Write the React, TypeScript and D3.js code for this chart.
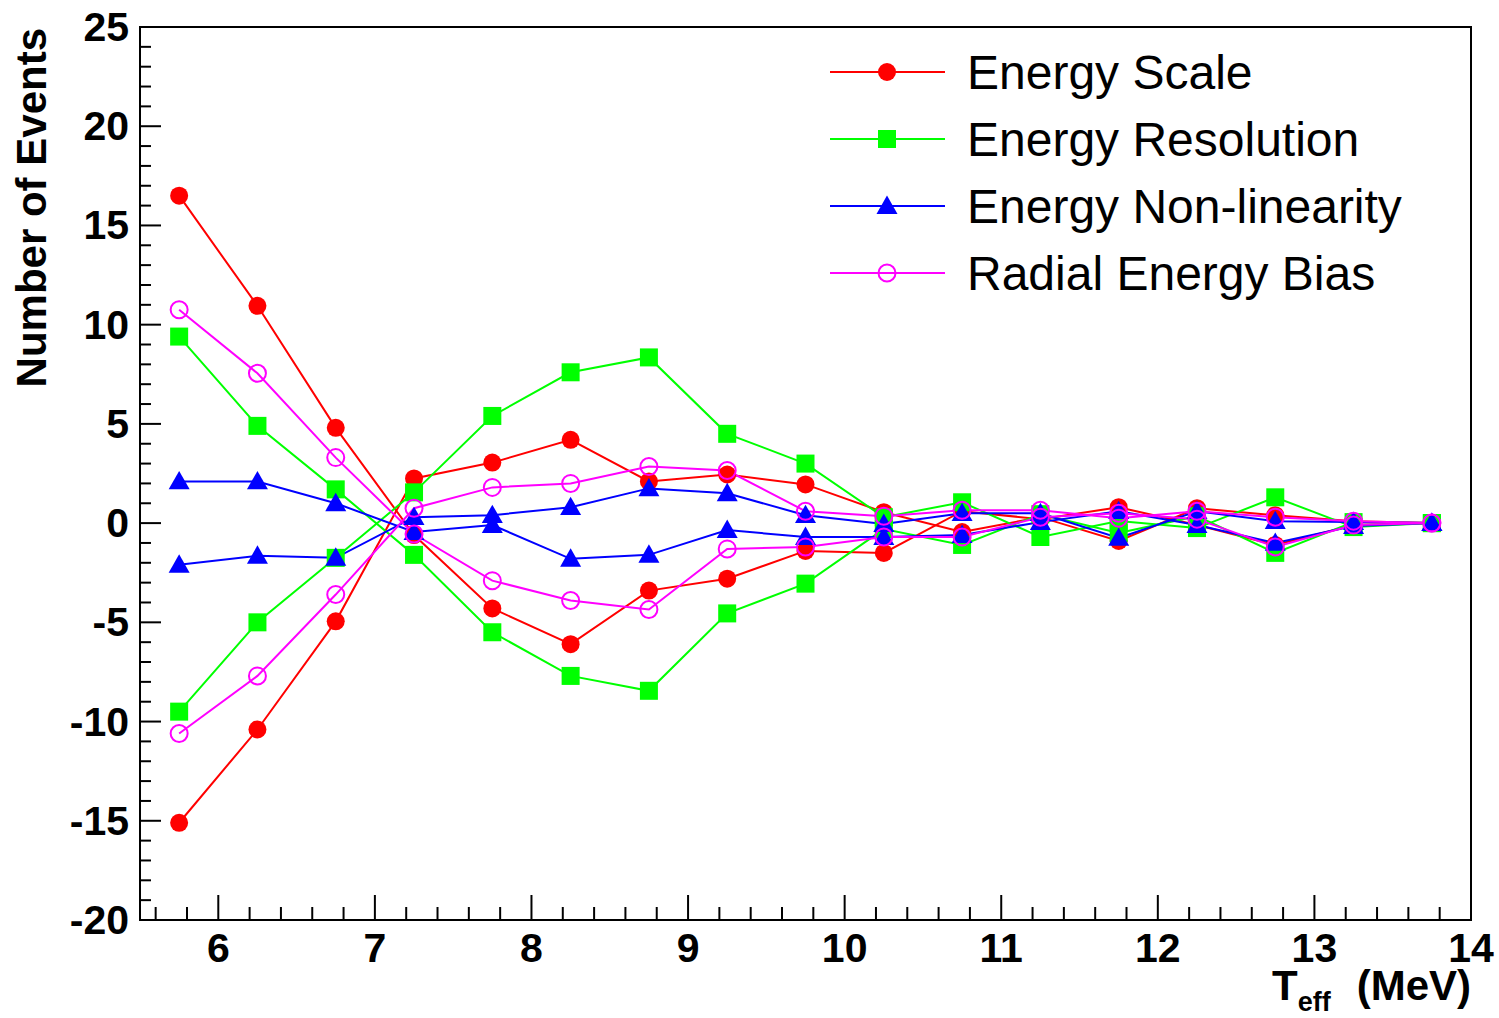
import React from "react";
import * as d3 from "d3";

const energies = [5.75, 6.25, 6.75, 7.25, 7.75, 8.25, 8.75, 9.25, 9.75, 10.25, 10.75, 11.25, 11.75, 12.25, 12.75, 13.25, 13.75];

const scaleA = [16.5, 10.95, 4.8, -0.6, -4.3, -6.1, -3.4, -2.8, -1.4, -1.5, 0.6, 0.2, 0.8, -0.1, -1.1, -0.1, 0.0];
const scaleB = [-15.1, -10.4, -4.95, 2.25, 3.05, 4.2, 2.1, 2.45, 1.95, 0.55, -0.45, 0.3, -0.9, 0.75, 0.4, 0.1, 0.0];
const resolutionA = [9.4, 4.9, 1.7, -1.6, -5.5, -7.7, -8.45, -4.55, -3.05, -0.3, -1.1, 0.45, -0.5, 0.35, -1.5, 0.05, 0.0];
const resolutionB = [-9.5, -5.0, -1.75, 1.55, 5.4, 7.6, 8.35, 4.5, 3.0, 0.3, 1.05, -0.7, 0.1, -0.25, 1.3, -0.2, 0.0];
const nonlinA = [2.1, 2.1, 1.0, -0.45, -0.1, -1.8, -1.6, -0.35, -0.7, -0.7, -0.6, 0.05, 0.6, -0.1, -1.0, -0.15, 0.0];
const nonlinB = [-2.1, -1.65, -1.75, 0.3, 0.4, 0.8, 1.75, 1.5, 0.4, -0.05, 0.5, 0.5, -0.75, 0.6, 0.1, 0.05, 0.0];
const radialA = [10.75, 7.55, 3.3, -0.55, -2.9, -3.9, -4.35, -1.3, -1.2, -0.7, -0.7, 0.3, 0.5, 0.2, -1.2, -0.1, 0.0];
const radialB = [-10.6, -7.7, -3.6, 0.75, 1.8, 2.0, 2.85, 2.65, 0.6, 0.35, 0.65, 0.65, 0.25, 0.6, 0.3, 0.1, 0.0];

const xTicks = [6, 7, 8, 9, 10, 11, 12, 13, 14];
const yTicks = [-20, -15, -10, -5, 0, 5, 10, 15, 20, 25];

type Sys = { name: string; color: string; marker: string; series: number[][] };

const systematics: Sys[] = [
  { name: "Energy Scale", color: "#ff0000", marker: "circle", series: [scaleA, scaleB] },
  { name: "Energy Resolution", color: "#00ff00", marker: "square", series: [resolutionA, resolutionB] },
  { name: "Energy Non-linearity", color: "#0000ff", marker: "triangle", series: [nonlinA, nonlinB] },
  { name: "Radial Energy Bias", color: "#ff00ff", marker: "open", series: [radialA, radialB] },
];

const W = 1499, H = 1018;
const L = 140, R = 1471, T = 27, B = 920;
const FONT = "'Liberation Sans', Arial, Helvetica, sans-serif";

function Marker({ kind, color, x, y }: { kind: string; color: string; x: number; y: number }) {
  if (kind === "circle") return <circle cx={x} cy={y} r={9} fill={color} />;
  if (kind === "square") return <rect x={x - 9} y={y - 9} width={18} height={18} fill={color} />;
  if (kind === "triangle") {
    const s = 10.5;
    return <path d={`M${x},${y - s}L${x + s},${y + s * 0.75}L${x - s},${y + s * 0.75}Z`} fill={color} />;
  }
  return <circle cx={x} cy={y} r={8.5} fill="none" stroke={color} strokeWidth={2} />;
}

export default function App() {
  const x = d3.scaleLinear().domain([5.5, 14]).range([L, R]);
  const y = d3.scaleLinear().domain([-20, 25]).range([B, T]);
  const line = d3.line<number>().x((_, i) => x(energies[i])).y((v) => y(v));

  const xMinor = d3.range(5.6, 14.001, 0.2).map((v) => Math.round(v * 10) / 10).filter((v) => Math.abs(v - Math.round(v)) > 1e-6);
  const yMinor = d3.range(-20, 25.001, 1).filter((v) => v % 5 !== 0);

  const legendRows = [72, 139, 206, 273];

  return (
    <svg width={W} height={H} style={{ position: "absolute", left: 0, top: 0, background: "#fff" }} fontFamily={FONT}>
      <rect x={0} y={0} width={W} height={H} fill="#fff" />
      {systematics.map((s) =>
        s.series.map((vals, k) => (
          <path key={s.name + k} d={line(vals) || ""} fill="none" stroke={s.color} strokeWidth={2} />
        ))
      )}
      {systematics.map((s) =>
        s.series.map((vals, k) => (
          <g key={"m" + s.name + k}>
            {vals.map((v, i) => (
              <Marker key={i} kind={s.marker} color={s.color} x={x(energies[i])} y={y(v)} />
            ))}
          </g>
        ))
      )}
      <rect x={L} y={T} width={R - L} height={B - T} fill="none" stroke="#000" strokeWidth={2} />
      {xTicks.map((t) => (
        <line key={"xt" + t} x1={x(t)} x2={x(t)} y1={B} y2={B - 25} stroke="#000" strokeWidth={2} />
      ))}
      {xMinor.map((t) => (
        <line key={"xm" + t} x1={x(t)} x2={x(t)} y1={B} y2={B - 13} stroke="#000" strokeWidth={2} />
      ))}
      {xTicks.map((t) => (
        <text key={"xl" + t} x={x(t)} y={962} textAnchor="middle" fontSize={41} fontWeight="bold">
          {t}
        </text>
      ))}
      {yTicks.map((t) => (
        <line key={"yt" + t} x1={L} x2={L + 21} y1={y(t)} y2={y(t)} stroke="#000" strokeWidth={2} />
      ))}
      {yMinor.map((t) => (
        <line key={"ym" + t} x1={L} x2={L + 11} y1={y(t)} y2={y(t)} stroke="#000" strokeWidth={2} />
      ))}
      {yTicks.map((t) => (
        <text key={"yl" + t} x={129} y={y(t) + 14} textAnchor="end" fontSize={41} fontWeight="bold">
          {t}
        </text>
      ))}
      <text transform={`translate(46,${T + 1}) rotate(-90)`} textAnchor="end" fontSize={42} fontWeight="bold">
        Number of Events
      </text>
      <text x={R} y={1000} textAnchor="end" fontSize={42} fontWeight="bold">
        <tspan>T</tspan>
        <tspan fontSize={27} dy={11}>eff</tspan>
        <tspan dy={-11} dx={26}>(MeV)</tspan>
      </text>
      {systematics.map((s, i) => (
        <g key={"lg" + s.name}>
          <line x1={830} x2={945} y1={legendRows[i]} y2={legendRows[i]} stroke={s.color} strokeWidth={2} />
          <Marker kind={s.marker} color={s.color} x={887} y={legendRows[i]} />
          <text x={967} y={legendRows[i] + 17} fontSize={48}>
            {s.name}
          </text>
        </g>
      ))}
    </svg>
  );
}
